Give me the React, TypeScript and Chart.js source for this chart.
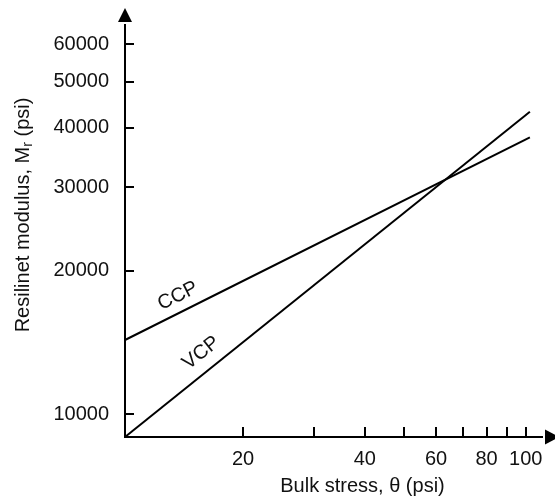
import { useEffect, useRef } from "react";
import { Chart, registerables } from "chart.js";

Chart.register(...registerables);

// ---- data ----
const seriesNames = ["CCP", "VCP"];
const bulkStress = [10.21, 102.4];
const ccpValues = [14310, 38180];
const vcpValues = [8950, 43230];

// label anchor points (data coordinates) for the series names
const seriesLabelX = [13.8, 15.75];
const seriesLabelY = [17710, 13440];

const xTickValues = [20, 30, 40, 50, 60, 70, 80, 90, 100];
const xTickLabels = ["20", "", "40", "", "60", "", "80", "", "100"];
const yTickValues = [10000, 20000, 30000, 40000, 50000, 60000];
const yTickLabels = ["10000", "20000", "30000", "40000", "50000", "60000"];

const xMin = 10.21;
const xMax = 111.6;
const yMin = 8946;
const yMax = 66746;

const xTitle = "Bulk stress, \u03B8 (psi)";
const yTitleMain = "Resilinet modulus, M";
const yTitleSub = "r";
const yTitleEnd = " (psi)";

const FONT_FAMILY = "'Liberation Sans', Arial, Helvetica, sans-serif";
const FONT_SIZE = 20;
const INK = "#111";

const axesPlugin = {
  id: "customAxes",
  afterDraw(chart: any) {
    const { ctx, chartArea, scales } = chart;
    const { left, right, top, bottom } = chartArea;
    const xs = scales.x;
    const ys = scales.y;
    ctx.save();
    ctx.strokeStyle = "#000";
    ctx.fillStyle = "#000";
    ctx.lineWidth = 2;
    ctx.lineCap = "butt";

    // axis lines
    ctx.beginPath();
    ctx.moveTo(left, bottom + 1);
    ctx.lineTo(left, top + 2);
    ctx.moveTo(left - 1, bottom);
    ctx.lineTo(right - 2, bottom);
    ctx.stroke();

    // arrows
    ctx.beginPath();
    ctx.moveTo(left - 7, top);
    ctx.lineTo(left + 7, top);
    ctx.lineTo(left, top - 14);
    ctx.closePath();
    ctx.fill();
    ctx.beginPath();
    ctx.moveTo(right, bottom - 7.5);
    ctx.lineTo(right, bottom + 7.5);
    ctx.lineTo(right + 14, bottom);
    ctx.closePath();
    ctx.fill();

    // tick marks (inward)
    ctx.beginPath();
    yTickValues.forEach((v) => {
      const py = Math.round(ys.getPixelForValue(v));
      ctx.moveTo(left, py);
      ctx.lineTo(left + 9, py);
    });
    xTickValues.forEach((v) => {
      const px = Math.round(xs.getPixelForValue(v));
      ctx.moveTo(px, bottom);
      ctx.lineTo(px, bottom - 10);
    });
    ctx.stroke();

    // x title
    ctx.fillStyle = INK;
    ctx.font = `${FONT_SIZE}px ${FONT_FAMILY}`;
    ctx.textAlign = "center";
    ctx.textBaseline = "middle";
    ctx.fillText(xTitle, 362.5, 486);

    // y title with subscript
    const mainFont = `${FONT_SIZE}px ${FONT_FAMILY}`;
    const subFont = `${Math.round(FONT_SIZE * 0.7)}px ${FONT_FAMILY}`;
    ctx.font = mainFont;
    const w1 = ctx.measureText(yTitleMain).width;
    const w3 = ctx.measureText(yTitleEnd).width;
    ctx.font = subFont;
    const w2 = ctx.measureText(yTitleSub).width;
    const total = w1 + w2 + w3;
    ctx.save();
    ctx.translate(23, 215);
    ctx.rotate(-Math.PI / 2);
    ctx.textAlign = "left";
    ctx.textBaseline = "middle";
    let cx = -total / 2;
    ctx.font = mainFont;
    ctx.fillText(yTitleMain, cx, 0);
    cx += w1;
    ctx.font = subFont;
    ctx.fillText(yTitleSub, cx, 5);
    cx += w2;
    ctx.font = mainFont;
    ctx.fillText(yTitleEnd, cx, 0);
    ctx.restore();

    // series labels along the lines
    const seriesData = [ccpValues, vcpValues];
    seriesNames.forEach((name, i) => {
      const vals = seriesData[i];
      const x0 = xs.getPixelForValue(bulkStress[0]);
      const x1 = xs.getPixelForValue(bulkStress[1]);
      const y0 = ys.getPixelForValue(vals[0]);
      const y1 = ys.getPixelForValue(vals[1]);
      const ang = Math.atan2(y1 - y0, x1 - x0);
      const px = xs.getPixelForValue(seriesLabelX[i]);
      const py = ys.getPixelForValue(seriesLabelY[i]);
      ctx.save();
      ctx.translate(px, py);
      ctx.rotate(ang);
      ctx.font = mainFont;
      ctx.textAlign = "center";
      ctx.textBaseline = "middle";
      ctx.fillStyle = INK;
      ctx.fillText(name, 0, 0);
      ctx.restore();
    });

    ctx.restore();
  },
};

export default function App() {
  const canvasRef = useRef<HTMLCanvasElement | null>(null);

  useEffect(() => {
    if (!canvasRef.current) return;
    const chart = new Chart(canvasRef.current, {
      type: "line",
      data: {
        datasets: [
          {
            label: seriesNames[0],
            data: bulkStress.map((x, i) => ({ x, y: ccpValues[i] })),
            borderColor: "#000",
            borderWidth: 2,
            pointRadius: 0,
            fill: false,
            clip: false as any,
          },
          {
            label: seriesNames[1],
            data: bulkStress.map((x, i) => ({ x, y: vcpValues[i] })),
            borderColor: "#000",
            borderWidth: 2,
            pointRadius: 0,
            fill: false,
            clip: false as any,
          },
        ],
      },
      options: {
        responsive: false,
        animation: false,
        events: [],
        layout: { padding: { top: 22, right: 10, left: 0, bottom: 0 } },
        plugins: {
          legend: { display: false },
          tooltip: { enabled: false },
          title: { display: false },
        },
        scales: {
          x: {
            type: "logarithmic",
            position: "bottom",
            min: xMin,
            max: xMax,
            grid: { display: false, drawTicks: false },
            border: { display: false },
            afterBuildTicks: (scale: any) => {
              scale.ticks = xTickValues.map((v) => ({ value: v }));
            },
            afterFit: (scale: any) => {
              scale.height = 65;
              scale.paddingLeft = 0;
              scale.paddingRight = 0;
            },
            ticks: {
              autoSkip: false,
              maxRotation: 0,
              minRotation: 0,
              padding: 10,
              color: INK,
              font: { family: FONT_FAMILY, size: FONT_SIZE },
              callback: (_v: any, i: number) => xTickLabels[i],
            },
          },
          y: {
            type: "logarithmic",
            position: "left",
            min: yMin,
            max: yMax,
            grid: { display: false, drawTicks: false },
            border: { display: false },
            afterBuildTicks: (scale: any) => {
              scale.ticks = yTickValues.map((v) => ({ value: v }));
            },
            afterFit: (scale: any) => {
              scale.width = 125;
              scale.paddingTop = 0;
              scale.paddingBottom = 0;
            },
            ticks: {
              autoSkip: false,
              padding: 16,
              color: INK,
              font: { family: FONT_FAMILY, size: FONT_SIZE },
              callback: (_v: any, i: number) => yTickLabels[i],
            },
          },
        },
      },
      plugins: [axesPlugin],
    });
    return () => chart.destroy();
  }, []);

  return (
    <div style={{ position: "fixed", left: 0, top: 0, width: 555, height: 502, background: "#fff" }}>
      <canvas ref={canvasRef} width={555} height={502} style={{ display: "block" }} />
    </div>
  );
}
